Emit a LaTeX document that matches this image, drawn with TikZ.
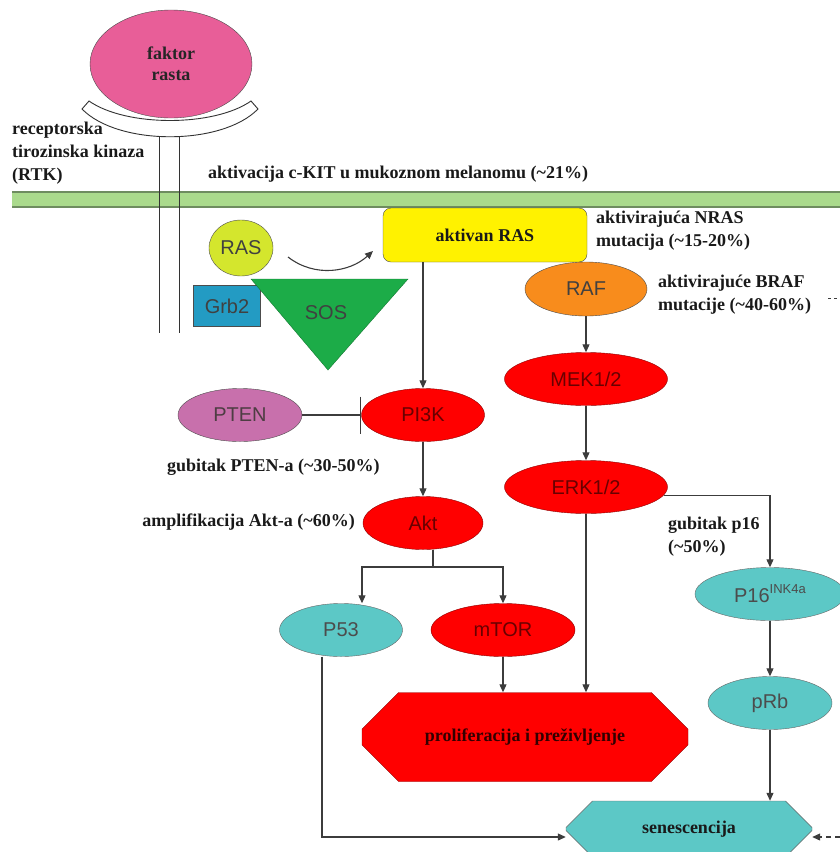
\documentclass[tikz,border=0pt]{standalone}
\usepackage{fontspec}
\setmainfont{Liberation Serif}
\setsansfont{Liberation Sans}
\usetikzlibrary{arrows.meta,shapes.geometric,shapes.misc}
\definecolor{memgreen}{RGB}{170,218,140}
\definecolor{memedge}{RGB}{110,140,95}
\definecolor{gfpink}{RGB}{232,94,152}
\definecolor{rasgreen}{RGB}{212,230,45}
\definecolor{grbblue}{RGB}{35,155,195}
\definecolor{sosgreen}{RGB}{28,172,72}
\definecolor{raforange}{RGB}{248,140,28}
\definecolor{cellred}{RGB}{255,0,0}
\definecolor{redtext}{RGB}{105,0,0}
\definecolor{cellcyan}{RGB}{92,200,198}
\definecolor{ptenpink}{RGB}{200,112,172}
\definecolor{linec}{RGB}{60,60,60}
\begin{document}
\begin{tikzpicture}[x=1pt, y=-1pt,
	lbl/.style={font=\fontsize{18}{23}\selectfont\bfseries, text=black!90, align=left, inner sep=0},
	mol/.style={ellipse, draw=black!70, font=\fontsize{20}{22}\selectfont\sffamily, inner sep=0, minimum height=53, text=black!75},
	redmol/.style={mol, fill=cellred, draw=red!55!black, text=redtext},
	cyanmol/.style={mol, fill=cellcyan, draw=black!60, text=black!70},
	arr/.style={draw=linec, line width=1.1, -{Triangle[length=8pt,width=7pt]}},
	link/.style={draw=linec, line width=1.1},
	inh/.style={draw=linec, line width=1.1, -{Bar[width=37pt]}}]
	\useasboundingbox (0,0) rectangle (840,852);
	\clip (0,0) rectangle (840,852);
	
	\fill[memgreen] (12,192) rectangle (840,207);
	\draw[memedge, line width=1.5] (12,192) -- (840,192) (12,207) -- (840,207);
	\draw[black!80, line width=1] (159,130) -- (159,333) (179,130) -- (179,333);
	\filldraw[fill=white, draw=black!80, line width=0.9] (82,109) .. controls (118,146) and (222,146) .. (258,109) -- (251,101) .. controls (214,127) and (126,127) .. (89,101) -- cycle;
	\node[ellipse, fill=gfpink, draw=black!70, minimum width=162, minimum height=108, inner sep=0, font=\fontsize{18}{21}\selectfont\bfseries, text=black!85, align=center] (GF) at (171,64) {faktor\\rasta};
	
	\node[lbl, anchor=west] (RTKlbl) at (12,153) {receptorska\\tirozinska kinaza\\(RTK)};
	\node[lbl, anchor=west] (KITlbl) at (208,174) {aktivacija c-KIT u mukoznom melanomu (\textasciitilde21\%)};
	
	\node[mol, rectangle, fill=grbblue, minimum width=67, minimum height=41] (Grb2) at (227,306) {Grb2};
	\filldraw[fill=sosgreen, draw=sosgreen!70!black] (251,279) -- (408,279) -- (328,370) -- cycle;
	\node[font=\fontsize{20}{22}\selectfont\sffamily, text=black!75] (SOS) at (326,313) {SOS};
	\node[mol, fill=rasgreen, minimum width=64, minimum height=56] (RAS) at (241,248) {RAS};
	\coordinate (rasout) at (288,257);
	\coordinate (rasin) at (373,251);
	\draw[arr] (rasout) .. controls (315,278) and (350,272) .. (rasin);
	
	\node[rectangle, rounded corners=8, draw=black!70, fill=yellow, minimum width=204, minimum height=54, font=\fontsize{18}{23}\selectfont\bfseries, text=black!90] (aRAS) at (485,235) {aktivan RAS};
	\node[lbl, anchor=west] (NRASlbl) at (596,231) {aktivirajuća NRAS\\mutacija (\textasciitilde15-20\%)};
	\node[mol, fill=raforange, minimum width=122, minimum height=54] (RAF) at (586,289) {RAF};
	\node[lbl, anchor=west] (BRAFlbl) at (658,295) {aktivirajuće BRAF\\mutacije (\textasciitilde40-60\%)};
	\coordinate (dashA) at (828,298);
	\coordinate (dashB) at (840,298);
	\draw[link, thin, dashed] (dashA) -- (dashB);
	
	\node[redmol, minimum width=163] (MEK) at (586,379) {MEK1/2};
	\node[redmol, minimum width=163] (ERK) at (586,487) {ERK1/2};
	\node[redmol, minimum width=123] (PI3K) at (423,415) {PI3K};
	\node[redmol, minimum width=120] (Akt) at (423,523) {Akt};
	\node[mol, fill=ptenpink, minimum width=124, text=black!80!magenta] (PTEN) at (240,415) {PTEN};
	\node[lbl, anchor=west] (PTENlbl) at (167,467) {gubitak PTEN-a (\textasciitilde30-50\%)};
	\node[lbl, anchor=east] (Aktlbl) at (355,522) {amplifikacija Akt-a (\textasciitilde60\%)};
	\node[cyanmol, minimum width=123] (P53) at (341,630) {P53};
	\node[redmol, minimum width=144] (mTOR) at (503,630) {mTOR};
	\node[lbl, anchor=west] (p16lbl) at (668,537) {gubitak p16\\(\textasciitilde50\%)};
	\node[cyanmol, minimum width=150] (P16) at (770,594) {P16\raisebox{0.45em}{\fontsize{13}{13}\selectfont INK4a}};
	\node[cyanmol, minimum width=124] (pRb) at (770,703) {pRb};
	
	\node[chamfered rectangle, chamfered rectangle xsep=25, chamfered rectangle ysep=25, draw=red!55!black, fill=cellred, minimum width=326, minimum height=89, font=\fontsize{18}{23}\selectfont\bfseries, text=black!80!red] (prolif) at (525,737) {proliferacija i preživljenje};
	\node[chamfered rectangle, chamfered rectangle xsep=14, chamfered rectangle ysep=15, draw=black!60, fill=cellcyan, minimum width=246, minimum height=56, font=\fontsize{18}{23}\selectfont\bfseries, text=black!90] (sen) at (689,829) {senescencija};
	
	\draw[arr] (aRAS.south -| PI3K.north) -- (PI3K);
	\draw[arr] (PI3K) -- (Akt);
	\draw[inh] (PTEN) -- (PI3K);
	\draw[arr] (RAF) -- (MEK);
	\draw[arr] (MEK) -- (ERK);
	\draw[arr] (ERK.-6) -| (P16);
	\draw[arr] (P16) -- (pRb);
	\draw[arr] (pRb) -- (pRb |- sen.north);
	\draw[arr] (ERK) -- (ERK |- prolif.north);
	\draw[arr] (mTOR) -- (mTOR |- prolif.north);
	\coordinate (fork) at (433,567);
	\draw[link] ([xshift=10pt]Akt.south) -- (fork);
	\draw[arr] (fork) -| ([xshift=21pt]P53.north);
	\draw[arr] (fork) -| (mTOR);
	\draw[arr] ([xshift=-19pt]P53.south) |- ([yshift=-8pt]sen.west);
	\coordinate (dashin) at (840,837);
	\draw[arr, dash pattern=on 5pt off 4pt] (dashin) -- ([yshift=-8pt]sen.east);
\end{tikzpicture}
\end{document}
